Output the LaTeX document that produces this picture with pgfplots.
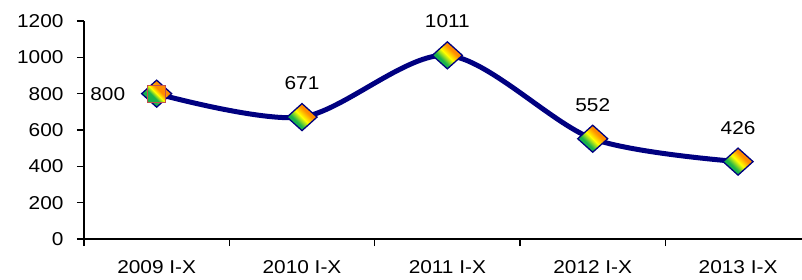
\documentclass[border=0pt]{standalone}
\usepackage{fontspec}
\setmainfont{Liberation Sans}[FakeStretch=1.12]
\usepackage{pgfplots}
\pgfplotsset{compat=1.18}
\definecolor{navyline}{RGB}{0,0,128}
\definecolor{sqborder}{RGB}{192,80,77}
\pgfdeclarehorizontalshading{mkgrad}{100bp}{%
  rgb(0bp)=(0.1,0.7,0.3); rgb(38bp)=(0.1,0.7,0.3); rgb(50bp)=(1,1,0); rgb(62bp)=(1,0.55,0); rgb(100bp)=(1,0.55,0)}
\pgfdeclareplotmark{gdiamond}{%
  \pgfpathmoveto{\pgfqpoint{0pt}{13.5pt}}%
  \pgfpathlineto{\pgfqpoint{15pt}{0pt}}%
  \pgfpathlineto{\pgfqpoint{0pt}{-13.5pt}}%
  \pgfpathlineto{\pgfqpoint{-15pt}{0pt}}%
  \pgfpathclose
  \pgfshadepath{mkgrad}{45}%
  \pgfusepath{stroke}}
\pgfdeclareplotmark{gsquare}{%
  \pgfpathrectangle{\pgfqpoint{-9pt}{-8.5pt}}{\pgfqpoint{18pt}{17pt}}%
  \pgfshadepath{mkgrad}{45}%
  \pgfusepath{stroke}}
\begin{document}
\begin{tikzpicture}
\begin{axis}[
  name=ax, at={(0,0)}, anchor=south west,
  scale only axis, width=718pt, height=218pt,
  xmin=-0.5, xmax=4.44, ymin=0, ymax=1200,
  axis lines=left, axis line style={-, line width=1.5pt, black},
  clip=false,
  xtick={-0.5,0.5,1.5,2.5,3.5}, xticklabels={},
  extra x ticks={0,1,2,3,4},
  extra x tick labels={2009 I-X,2010 I-X,2011 I-X,2012 I-X,2013 I-X},
  extra x tick style={major tick length=0pt, tick label style={yshift=-18pt}},
  ytick={0,200,400,600,800,1000,1200},
  tick align=outside, major tick length=7pt,
  tick style={line width=1.5pt, black},
  /pgf/number format/assume math mode=true,
  /pgf/number format/1000 sep={},
  tick label style={font=\fontsize{18.6}{20}\selectfont},
  yticklabel style={xshift=-10pt},
]
\addplot[navyline, line width=5pt, smooth, tension=0.5, mark=gdiamond,
  mark options={navyline, line width=1.3pt}]
  coordinates {(0,800) (1,671) (2,1011) (3,552) (4,426)};
\addplot[only marks, mark=gsquare, mark options={sqborder, line width=1pt}]
  coordinates {(0,800)};
\addplot[draw=none, mark=none, nodes near coords,
  nodes near coords style={anchor=center, yshift=34pt, font=\fontsize{18.6}{20}\selectfont, /pgf/number format/1000 sep={}}]
  coordinates {(1,671) (2,1011) (3,552) (4,426)};
\addplot[draw=none, mark=none, nodes near coords,
  nodes near coords style={anchor=east, xshift=-28pt, yshift=0pt, font=\fontsize{18.6}{20}\selectfont}]
  coordinates {(0,800)};
\end{axis}
\pgfresetboundingbox
\useasboundingbox ([shift={(-84pt,-40pt)}]ax.south west) rectangle ([shift={(718pt,239pt)}]ax.south west);
\end{tikzpicture}
\end{document}
